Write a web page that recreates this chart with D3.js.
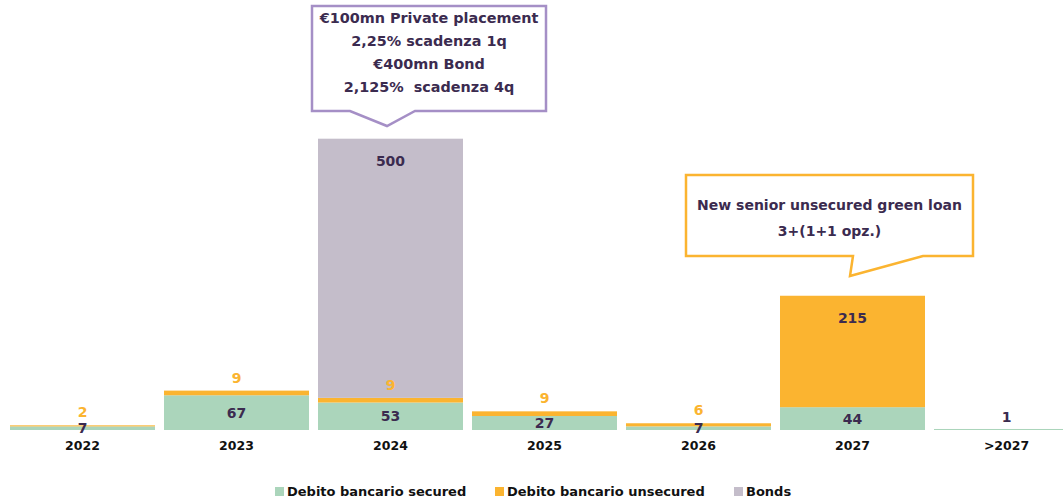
<!DOCTYPE html>
<html>
<head>
<meta charset="utf-8">
<script src="https://cdn.jsdelivr.net/npm/d3@7"></script>
<style>
  body { margin: 0; background: #fff; }
  text { font-family: "DejaVu Sans", Verdana, sans-serif; font-weight: bold; white-space: pre; }
</style>
</head>
<body>
<script>
const categories = ['2022', '2023', '2024', '2025', '2026', '2027', '>2027'];
const secured = [7, 67, 53, 27, 7, 44, 1];
const unsecured = [2, 9, 9, 9, 6, 215, 0];
const bonds = [0, 0, 500, 0, 0, 0, 0];
const seriesNames = ['Debito bancario secured', 'Debito bancario unsecured', 'Bonds'];
const callout1 = ['€100mn Private placement', '2,25% scadenza 1q', '€400mn Bond', '2,125%  scadenza 4q'];
const callout2 = ['New senior unsecured green loan', '3+(1+1 opz.)'];

const colors = ['#abd5bb', '#fbb430', '#c4bdca'];
const dark = '#3b2b4f';
const width = 1063, height = 499;

const svg = d3.select('body').append('svg')
  .attr('width', width)
  .attr('height', height);

const x = d3.scaleBand()
  .domain(categories)
  .range([5.5, 1083.5])
  .paddingInner(0.0584)
  .paddingOuter(0.0292);

const y = d3.scaleLinear()
  .domain([0, 600])
  .range([430, 119]);

const rows = categories.map((c, i) => ({ cat: c, s: secured[i], u: unsecured[i], b: bonds[i] }));
const keys = ['s', 'u', 'b'];
const stacked = d3.stack().keys(keys)(rows);

// bars
svg.selectAll('.layer')
  .data(stacked)
  .enter().append('g')
  .attr('fill', (d, i) => colors[i])
  .selectAll('rect')
  .data(d => d)
  .enter().append('rect')
  .attr('x', d => x(d.data.cat))
  .attr('width', x.bandwidth())
  .attr('y', d => y(d[1]))
  .attr('height', d => Math.max(0, y(d[0]) - y(d[1])))
  .filter(d => d[1] - d[0] > 0 && d[1] - d[0] < 2)
  .attr('y', d => y(d[1]) - 0.5)
  .attr('height', d => y(d[0]) - y(d[1]) + 0.5);

// labels: secured
const lbl = svg.append('g').attr('text-anchor', 'middle').style('font-size', '14px');
stacked[0].forEach(d => {
  if (d.data.s <= 0) return;
  const yy = d.data.s >= 5 ? (y(d[0]) + y(d[1])) / 2 + 5 : y(d[1]) - 7;
  lbl.append('text').attr('x', x(d.data.cat) + x.bandwidth() / 2).attr('y', yy)
    .attr('fill', dark).text(d.data.s);
});
// labels: unsecured
stacked[1].forEach(d => {
  if (d.data.u <= 0) return;
  const inside = d.data.u > 50;
  lbl.append('text').attr('x', x(d.data.cat) + x.bandwidth() / 2)
    .attr('y', inside ? y(d[1]) + 27 : y(d[1]) - 8)
    .attr('fill', inside ? dark : colors[1]).text(d.data.u);
});
// labels: bonds
stacked[2].forEach(d => {
  if (d.data.b <= 0) return;
  lbl.append('text').attr('x', x(d.data.cat) + x.bandwidth() / 2)
    .attr('y', y(d[1]) + 27)
    .attr('fill', dark).text(d.data.b);
});

// category axis
const axis = svg.append('g')
  .attr('transform', 'translate(0,430)')
  .call(d3.axisBottom(x).tickSize(0).tickPadding(11));
axis.select('.domain').remove();
axis.selectAll('text')
  .style('font-size', '12.5px')
  .style('font-family', '"DejaVu Sans", Verdana, sans-serif')
  .style('font-weight', 'bold')
  .attr('fill', '#111');

// callout boxes
function callout(box, tip, lines, color, lineY, lineH, fs) {
  const [x0, y0, x1, y1] = box;
  const path = `M${x0},${y0}H${x1}V${y1}H${tip[2]}L${tip[1][0]},${tip[1][1]}L${tip[0]},${y1}H${x0}Z`;
  svg.append('path').attr('d', path)
    .attr('fill', '#fff').attr('stroke', color).attr('stroke-width', 2.5);
  const cx = (x0 + x1) / 2;
  lines.forEach((t, i) => {
    svg.append('text').attr('x', cx).attr('y', lineY + i * lineH)
      .attr('text-anchor', 'middle').style('font-size', fs + 'px')
      .attr('fill', dark).text(t);
  });
}
callout([312, 6, 546, 111], [350, [387, 126], 415], callout1, '#a58fc6', 23, 23, 14.4);
callout([686, 175, 973, 256], [853, [850, 276], 923], callout2, colors[1], 210, 26, 14);

// legend
const legendX = [275, 495, 734];
const legend = svg.append('g');
seriesNames.forEach((n, i) => {
  legend.append('rect').attr('x', legendX[i]).attr('y', 487).attr('width', 9).attr('height', 9)
    .attr('fill', colors[i]);
  legend.append('text').attr('x', legendX[i] + 12).attr('y', 496)
    .style('font-size', '13px').attr('fill', '#111').text(n);
});
</script>
</body>
</html>
